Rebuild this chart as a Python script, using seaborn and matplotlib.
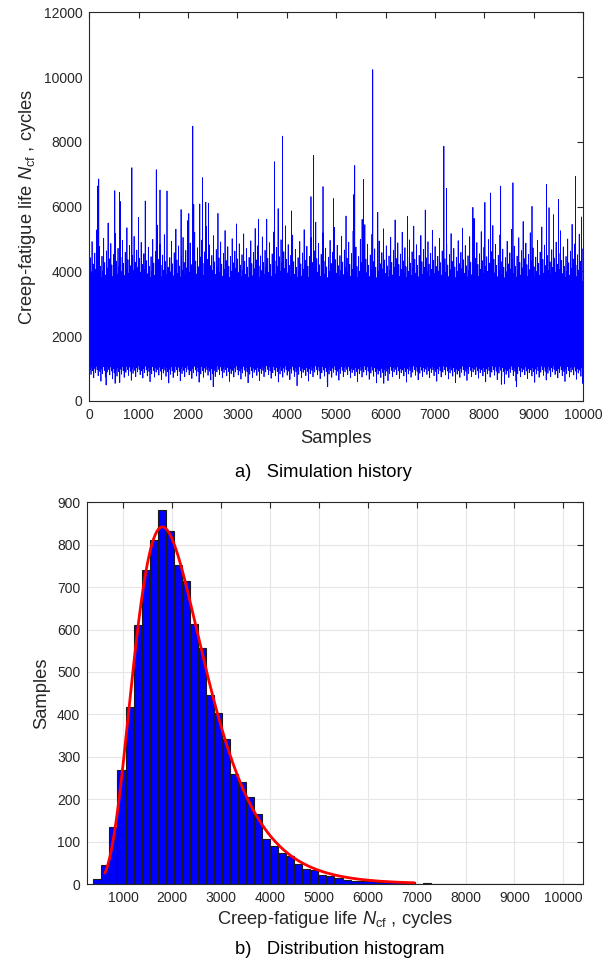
import numpy as np
import pandas as pd
import matplotlib
matplotlib.use("Agg")
import matplotlib.pyplot as plt
import seaborn as sns

# ---------------- data ----------------
# histogram (panel b): 60 bins starting at BIN_LOW, width BIN_WIDTH
BIN_LOW = 388.0
BIN_WIDTH = 164.4
BIN_COUNTS = [11, 45, 134, 268, 418, 611, 741, 810, 883, 833,
              752, 715, 612, 556, 445, 403, 343, 259, 240, 204,
              164, 106, 90, 72, 66, 46, 35, 34, 21, 19,
              14, 9, 7, 6, 5, 4, 3, 3, 2, 2,
              0, 3, 1, 1, 0, 1, 0, 1, 0, 1,
              0, 0, 0, 0, 0, 0, 0, 0, 0, 1]

# notable excursions in the simulation history (panel a): sample index, value
SPIKE_POS = [2095, 3912, 3749, 4543, 861, 1356, 190, 163, 2292, 515,
             610, 1431, 1573, 4733, 4489, 4943, 1132, 631, 2359, 1858,
             3824, 2115, 2014, 2237, 2414, 4095, 3424, 5740, 7181, 5375,
             5552, 7235, 9846, 8580, 8331, 9258, 8128, 5349, 9505, 5842,
             8012, 8966, 7769, 9311, 9968, 6444, 5525,
             339, 2509, 4828, 522, 8345, 8655, 5964, 9988]
SPIKE_VAL = [8485, 8177, 7387, 7582, 7203, 7141, 6854, 6638, 6895, 6495,
             6443, 6515, 6484, 6618, 6310, 6248, 6176, 6156, 6135, 5910,
             5941, 6064, 5787, 6084, 6105, 5869, 5612, 10230, 7867, 7271,
             6840, 6563, 6940, 6738, 6636, 6686, 6421, 6369, 6225, 5825,
             6132, 6010, 5979, 5969, 5683, 5703, 5610,
             492, 441, 441, 544, 513, 441, 544, 544]

# lognormal fit drawn over the histogram
FIT_MU = 7.655
FIT_SIGMA = 0.40
FIT_XMIN, FIT_XMAX = 626, 6950

# ---------------- build the sample series ----------------
nb = len(BIN_COUNTS)
edges = BIN_LOW + BIN_WIDTH * np.arange(nb + 1)
spike_val = np.array(SPIKE_VAL, dtype=float)
spike_pos = np.array(SPIKE_POS)
spike_bin = np.clip(np.searchsorted(edges, spike_val, side="right") - 1, 0, nb - 1)
bulk_counts = np.maximum(np.array(BIN_COUNTS) - np.bincount(spike_bin, minlength=nb), 0)
bulk = np.concatenate([edges[i] + (np.arange(c) + 0.5) * BIN_WIDTH / c
                       for i, c in enumerate(bulk_counts) if c > 0])
N = len(bulk) + len(spike_pos)
series = np.empty(N)
free = np.setdiff1d(np.arange(N), spike_pos)
phi = (np.sqrt(5) - 1) / 2
keys = np.mod(np.arange(len(free)) * phi, 1.0)
rank = np.argsort(np.argsort(keys))
series[free] = bulk[rank]
series[spike_pos] = spike_val
df = pd.DataFrame({"sample": np.arange(1, N + 1), "life": series})

total = N
xfit = np.linspace(FIT_XMIN, FIT_XMAX, 400)
pdf = np.exp(-(np.log(xfit) - FIT_MU) ** 2 / (2 * FIT_SIGMA ** 2)) / (xfit * FIT_SIGMA * np.sqrt(2 * np.pi))
fit_df = pd.DataFrame({"x": xfit, "y": pdf * total * BIN_WIDTH})

# ---------------- style ----------------
sns.set_theme(style="white")
plt.rcParams["font.family"] = ["Liberation Sans", "DejaVu Sans"]
plt.rcParams["mathtext.fontset"] = "custom"
plt.rcParams["mathtext.rm"] = "Liberation Sans"
plt.rcParams["mathtext.it"] = "Liberation Sans:italic"
plt.rcParams["axes.edgecolor"] = "#262626"
plt.rcParams["xtick.color"] = "#262626"
plt.rcParams["ytick.color"] = "#262626"
TXT = "#262626"
LAB = 13.2

fig = plt.figure(figsize=(6.04, 9.65), dpi=100)
W, H = 604, 965

def add_ax(l, r, t, b):
    return fig.add_axes([l / W, 1 - b / H, (r - l) / W, (b - t) / H])

ax1 = add_ax(89.3, 583, 12.3, 401)
ax2 = add_ax(87.3, 582.7, 502.3, 884)

# panel a
sns.lineplot(data=df, x="sample", y="life", ax=ax1, color="#0000ff",
             linewidth=0.55, estimator=None, sort=False)
ax1.set_xlim(0, 10000)
ax1.set_ylim(0, 12000)
ax1.set_xticks(np.arange(0, 10001, 1000))
ax1.set_yticks(np.arange(0, 12001, 2000))
ax1.set_xlabel("Samples", fontsize=LAB, color=TXT, labelpad=6)
ax1.set_ylabel(r"Creep-fatigue life $N_{\mathrm{cf}}$ , cycles", fontsize=LAB, color=TXT, labelpad=4)

# panel b
ax2.grid(True, color="#e6e6e6", linewidth=0.8)
ax2.set_axisbelow(True)
sns.histplot(data=df, x="life", bins=edges, ax=ax2, color="#0000ff",
             edgecolor="#1a1a1a", linewidth=0.8, alpha=1.0)
sns.lineplot(data=fit_df, x="x", y="y", ax=ax2, color="#ff0000", linewidth=2.0)
ax2.set_xlim(264, 10397)
ax2.set_ylim(0, 900)
ax2.set_xticks(np.arange(1000, 10001, 1000))
ax2.set_yticks(np.arange(0, 901, 100))
ax2.set_xlabel(r"Creep-fatigue life $N_{\mathrm{cf}}$ , cycles", fontsize=LAB, color=TXT, labelpad=3)
ax2.set_ylabel("Samples", fontsize=LAB, color=TXT, labelpad=5)

for ax in (ax1, ax2):
    ax.tick_params(direction="in", length=4, width=0.8, top=True, right=True,
                   labelsize=10, labelcolor=TXT, pad=5)
    for s in ax.spines.values():
        s.set_linewidth(0.8)
        s.set_visible(True)

fig.text(323 / W, 1 - 472 / H, "a)   Simulation history", ha="center", va="center",
         fontsize=LAB, color="black")
fig.text(340 / W, 1 - 950 / H, "b)   Distribution histogram", ha="center", va="center",
         fontsize=LAB, color="black")

fig.savefig("out.png", dpi=100)
